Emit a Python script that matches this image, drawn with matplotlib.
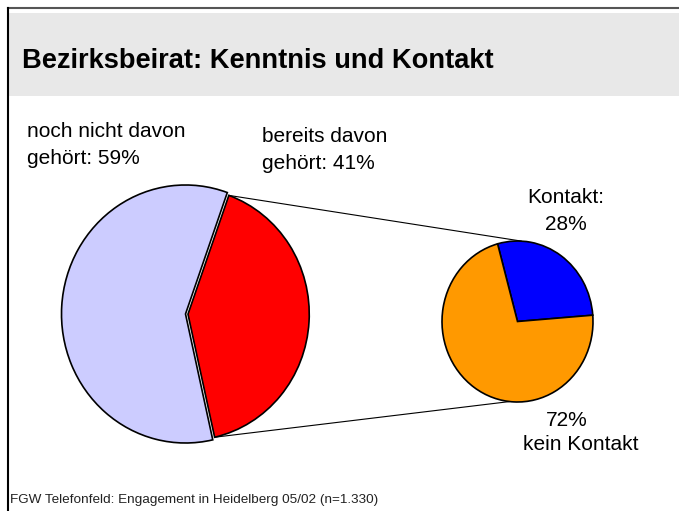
import matplotlib.pyplot as plt
from matplotlib.patches import Rectangle, ConnectionPatch
import numpy as np

plt.rcParams['font.family'] = ['Liberation Sans', 'DejaVu Sans']

# Daten
titel = "Bezirksbeirat: Kenntnis und Kontakt"
quelle = "FGW Telefonfeld: Engagement in Heidelberg 05/02 (n=1.330)"

kenntnis_labels = ["bereits davon\ngehört: 41%", "noch nicht davon\ngehört: 59%"]
kenntnis_werte = [41, 59]
kenntnis_farben = ["#FF0000", "#CCCCFF"]

kontakt_labels = ["Kontakt:\n28%", "72%", "kein Kontakt"]
kontakt_werte = [28, 72]
kontakt_farben = ["#0000FF", "#FF9900"]

W, H = 679, 511
fig = plt.figure(figsize=(W / 100, H / 100), dpi=100)

# Hintergrund-Achse in Pixelkoordinaten
bg = fig.add_axes([0, 0, 1, 1])
bg.set_xlim(0, W)
bg.set_ylim(H, 0)
bg.axis('off')

bg.add_patch(Rectangle((9, 13), W - 9, 83, facecolor="#E8E8E8", edgecolor="none"))
bg.plot([8, W], [8, 8], color="#555555", lw=1.5)
bg.plot([8, 8], [8, H], color="black", lw=1.5)

bg.text(22, 61, titel, fontsize=19.6, fontweight='bold', va='center', ha='left')
bg.text(10, 500, quelle, fontsize=9.7, va='center', ha='left', color="#222222")


def pie_achse(cx, cy, rx, ry):
    ax = fig.add_axes([(cx - rx) / W, (H - cy - ry) / H, 2 * rx / W, 2 * ry / H])
    return ax


# grosser Kreis
ax1 = pie_achse(185.5, 314, 124, 129)
w1, _ = ax1.pie(kenntnis_werte, colors=kenntnis_farben, startangle=-77.3,
                explode=[0.02, 0], counterclock=True,
                wedgeprops=dict(edgecolor="black", linewidth=1.2))
w1[0].set_radius(0.978)
ax1.set_xlim(-1, 1)
ax1.set_ylim(-1, 1)
ax1.set_aspect('auto')
for w in w1:
    w.set_clip_on(False)
ax1.axis('off')

# kleiner Kreis
ax2 = pie_achse(517.5, 321.5, 75.5, 80.5)
w2, _ = ax2.pie(kontakt_werte, colors=kontakt_farben, startangle=4.5,
                counterclock=True,
                wedgeprops=dict(edgecolor="black", linewidth=1.2))
ax2.set_xlim(-1, 1)
ax2.set_ylim(-1, 1)
ax2.set_aspect('auto')
for w in w2:
    w.set_clip_on(False)
ax2.axis('off')

# Verbindungslinien vom roten Segment zum kleinen Kreis
rot = w1[0]
ex, ey = rot.center
r = rot.r
for winkel, ziel in [(rot.theta2, 87), (rot.theta1, 264)]:
    p1 = (ex + r * np.cos(np.radians(winkel)), ey + r * np.sin(np.radians(winkel)))
    p2 = (np.cos(np.radians(ziel)), np.sin(np.radians(ziel)))
    con = ConnectionPatch(xyA=p1, coordsA=ax1.transData, xyB=p2, coordsB=ax2.transData,
                          color="black", lw=0.8)
    fig.add_artist(con)

# Beschriftungen
bg.text(27, 145, kenntnis_labels[1], fontsize=15, va='center', ha='left', linespacing=1.55)
bg.text(262, 150, kenntnis_labels[0], fontsize=15, va='center', ha='left', linespacing=1.55)
bg.text(566, 211, kontakt_labels[0], fontsize=15, va='center', ha='center', linespacing=1.55)
bg.text(567, 421, kontakt_labels[1], fontsize=15, va='center', ha='center')
bg.text(581, 444, kontakt_labels[2], fontsize=15, va='center', ha='center')

fig.savefig("out.png", dpi=100)
